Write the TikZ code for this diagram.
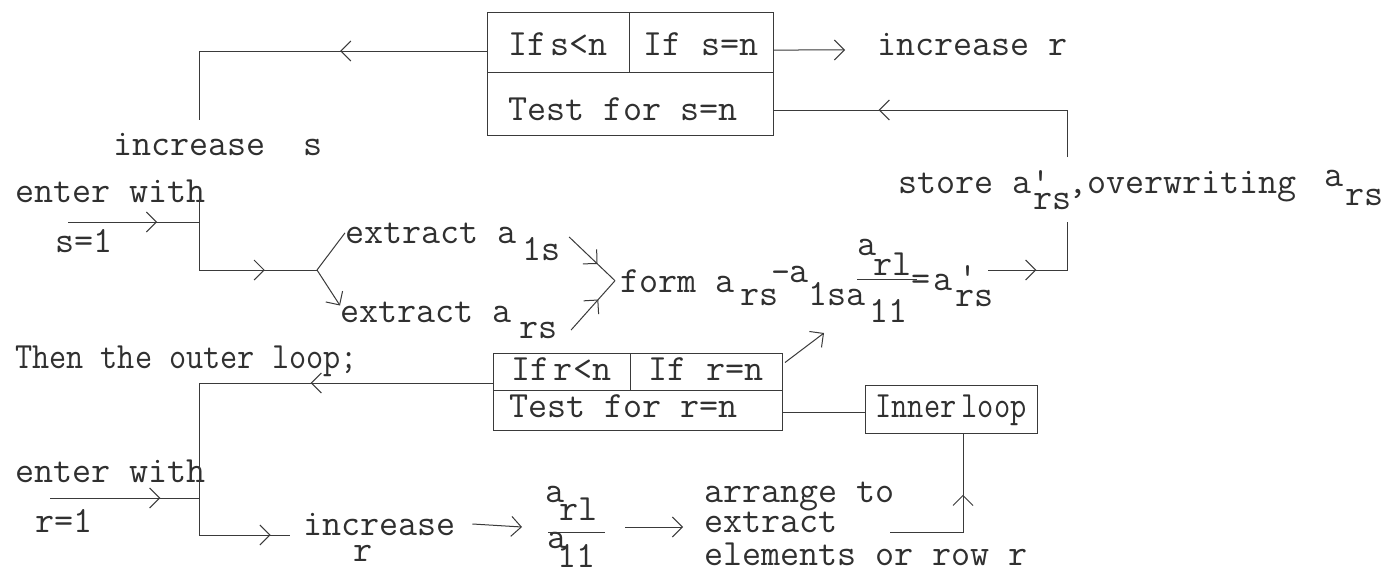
\documentclass[tikz,border=0pt]{standalone}
\usepackage{fontspec}
\setmonofont{Latin Modern Mono}
\usetikzlibrary{arrows.meta,decorations.markings,calc}
\definecolor{ink}{HTML}{303030}
\definecolor{wire}{HTML}{3A3A3A}
\newcommand\twfont{\fontsize{37}{40}\selectfont\ttfamily}
\tikzset{
  txt/.style={font=\twfont, text=ink, inner sep=0pt, outer sep=0pt, anchor=base west},
  cell/.style={draw=wire, line width=1pt, font=\twfont, text=ink, inner sep=0pt, outer sep=0pt, rectangle},
  wireline/.style={draw=wire, line width=1pt},
  midarr/.style={postaction={decorate}, decoration={markings, mark=at position #1 with {\arrow{Straight Barb[length=10pt,width=20pt,line width=1pt]}}}},
  endarr/.style={-{Straight Barb[length=10pt,width=20pt,line width=1pt]}}
}
\begin{document}
\begin{tikzpicture}[x=1pt,y=-1pt]
\fill[white] (0,0) rectangle (1397,576);
\useasboundingbox (0,0) rectangle (1397,576);

% ---- upper test box (s) ----
\node[cell, minimum width=142pt, minimum height=60pt, text height=26pt, text depth=0pt] (sA) at (558,42) {If\kern4pt s<n};
\node[cell, minimum width=144pt, minimum height=60pt, text height=26pt, text depth=0pt] (sB) at (701,42) {If s=n};
\node[cell, minimum width=286pt, minimum height=63pt, text height=33pt, text depth=0pt] (sC) at (630,103.5) {Test for s=n\hspace*{14pt}};

\node[txt] (incR) at (877,55) {increase r};
\node[txt] (incS) at (113,155) {increase~~s};

% ---- inner loop text ----
\node[txt] (enterS) at (15,202) {enter with};
\node[txt] (sOne) at (55,252) {s=1};
\node[txt] (ext1) at (345,243) {extract a};
\node[txt] (ext1s) at (522,260) {1s};
\node[txt] (ext2) at (340,322) {extract a};
\node[txt] (ext2s) at (519,338) {rs};

% formula
\node[txt] (form1) at (620,292) {form a};
\node[txt] (frs1) at (740,305) {rs};
\node[txt] (fdash) at (771,283) {-};
\node[txt] (fa1) at (789,282) {a};
\node[txt] (f1sa) at (808,305) {1sa};
\node[txt] (f11) at (869,322) {11};
\node[txt] (fna) at (857,255) {a};
\node[txt] (frl) at (873,275) {rl};
\coordinate (fb3) at (857,279);
\coordinate (fb4) at (917,279);
\draw[wireline] (fb3) -- (fb4);
\node[txt] (feq) at (911,290) {=};
\node[txt] (fa2) at (933,290) {a};
\node[txt] (fq) at (958,288) {\textquotesingle};
\node[txt] (frs2) at (955,306) {rs};

% store
\node[txt] (st1) at (898,193) {store a\textquotesingle};
\node[txt] (st2) at (1033,209) {rs};
\node[txt] (st3) at (1068,193) {,overwriting};
\node[txt] (st4) at (1324,186) {a};
\node[txt] (st5) at (1345,205) {rs};

\node[txt] (thenL) at (15,368) {\scalebox{0.9}[1]{Then the outer loop;}};

% ---- lower test box (r) ----
\node[cell, minimum width=137pt, minimum height=37pt, text height=17pt, text depth=0pt] (rA) at (561.5,371.5) {If\kern4pt r<n};
\node[cell, minimum width=152pt, minimum height=37pt, text height=17pt, text depth=0pt] (rB) at (706,371.5) {If r=n};
\node[cell, minimum width=289pt, minimum height=40pt, text height=14pt, text depth=0pt] (rC) at (637.5,410) {Test for r=n\hspace*{28pt}};
\node[cell, minimum width=172pt, minimum height=48pt, text height=16pt, text depth=0pt] (inner) at (951,409) {\scalebox{0.85}[1]{Inner\kern6pt loop}};

\node[txt] (enterR) at (15,482) {enter with};
\node[txt] (rOne) at (35,532) {r=1};
\node[txt] (incR2) at (303,535) {increase};
\node[txt] (rr) at (353,561) {r};
\node[txt] (ga) at (545,502) {a};
\node[txt] (grl) at (559,520) {rl};
\node[txt] (ga2) at (547,548) {a};
\node[txt] (g11) at (557,567) {11};
\coordinate (fb1) at (548,532);
\coordinate (fb2) at (605,532);
\draw[wireline] (fb1) -- (fb2);
\node[txt] (arr1) at (704,502) {arrange to};
\node[txt] (arr2) at (704,532) {extract};
\node[txt] (arr3) at (704,565) {elements or row r};

% ---- connectors: upper part ----
\coordinate (tlc) at (199,51);
\coordinate (tlb) at (199,120);
\draw[wireline, midarr=0.51] ([yshift=-9pt]sA.west) -- (tlc);
\draw[wireline] (tlc) -- (tlb);

\coordinate (es0) at (68,222);
\coordinate (es1) at (199,222);
\draw[wireline, midarr=0.68] (es0) -- (es1);
\coordinate (vs0) at (199,187);
\coordinate (vsc) at (199,270);
\coordinate (br) at (317,270);
\draw[wireline, midarr=0.74] (vs0) -- (vsc) -- (br);
\draw[wireline] (br) -- (ext1.west);
\draw[wireline, endarr] (br) -- ([yshift=-4pt]ext2.north west);

\coordinate (fm) at ([xshift=-5pt]form1.west);
\draw[wireline, midarr=0.62] ([xshift=9pt]ext1s.north east) -- (fm);
\draw[wireline, midarr=0.62] ([xshift=14pt]ext2s.east) -- (fm);

\coordinate (fo) at (988,270);
\coordinate (rc1) at (1067,270);
\coordinate (rc2) at (1067,222);
\draw[wireline, midarr=0.38] (fo) -- (rc1) -- (rc2);

\coordinate (rt1) at (1067,157);
\coordinate (rt2) at (1067,110);
\draw[wireline, midarr=0.69] (rt1) -- (rt2) -- (sC.east |- rt2);

\draw[wireline, endarr] ([yshift=-8pt]sB.east) -- ([xshift=-32pt,yshift=-6pt]incR.west);

% ---- connectors: lower part ----
\coordinate (llc) at (199,383);
\coordinate (llb) at (199,535);
\coordinate (lle) at (290,535);
\draw[wireline, midarr=0.62] ([yshift=-11.5pt]rA.west) -- (llc);
\draw[wireline, midarr=0.92] (llc) -- (llb) -- (lle);
\coordinate (er0) at (50,498);
\draw[wireline, midarr=0.74] (er0) -- (llc |- er0);

\draw[wireline, endarr] ([xshift=17pt]incR2.east) -- ([xshift=-26pt,yshift=5pt]fb1);
\draw[wireline, endarr] ([xshift=20pt,yshift=5pt]fb2) -- ([xshift=-21pt,yshift=5pt]arr2.base west);

\coordinate (ib) at (963,532);
\draw[wireline, midarr=0.64] ([xshift=53pt]arr2.base east) -- (ib) -- (ib |- inner.south);
\draw[wireline] ([yshift=-2pt]rC.east) -- ([yshift=-3pt]inner.west);
\draw[wireline, endarr] ([xshift=3pt,yshift=9pt]rB.east) -- ([xshift=16pt,yshift=-28pt]f1sa.base west);
\end{tikzpicture}
\end{document}
